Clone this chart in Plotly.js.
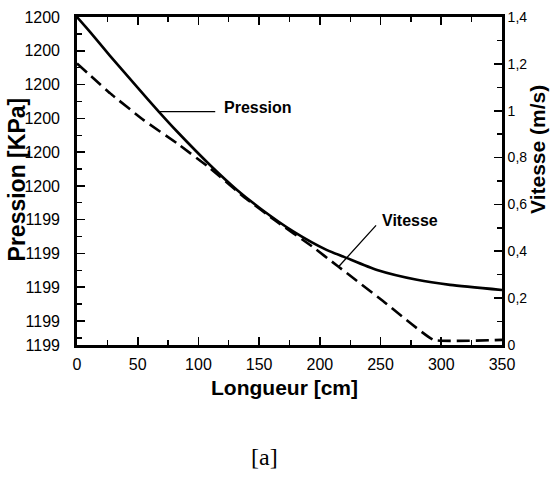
<!DOCTYPE html>
<html>
<head>
<meta charset="utf-8">
<script src="https://cdn.plot.ly/plotly-3.0.1.min.js"></script>
<style>html,body{margin:0;padding:0;background:#fff;}#chart{width:551px;height:477px;}</style>
</head>
<body>
<div id="chart"></div>
<script>
// Longueur [cm] positions for the pressure curve
const xPression = [0, 10.7, 27.2, 49.4, 67.3, 82.4, 109.5, 131.8, 150.7, 178.7, 205.9, 219.9, 247.1, 280, 307.2, 350];
// Pression [KPa]
const pression = [1200.000, 1199.956, 1199.885, 1199.793, 1199.720, 1199.661, 1199.562, 1199.488, 1199.434, 1199.364, 1199.310, 1199.290, 1199.251, 1199.222, 1199.207, 1199.192];
// Longueur [cm] positions for the velocity curve
const xVitesse = [0, 27.4, 54.9, 82.3, 109.7, 137.2, 164.6, 192.0, 215.4, 252.0, 293.5, 350];
// Vitesse (m/s)
const vitesse = [1.202, 1.074, 0.960, 0.861, 0.754, 0.633, 0.526, 0.427, 0.334, 0.188, 0.022, 0.022];

// Axis ticks
const xTicks = [0, 50, 100, 150, 200, 250, 300, 350];
const pTickVals = [1200.0, 1199.9, 1199.8, 1199.7, 1199.6, 1199.5, 1199.4, 1199.3, 1199.2, 1199.1, 1199.029];
const pTickText = ["1200", "1200", "1200", "1200", "1200", "1200", "1199", "1199", "1199", "1199", "1199"];
const vTickVals = [0, 0.2, 0.4, 0.6, 0.8, 1.0, 1.2, 1.4];
const vTickText = ["0", "0,2", "0,4", "0,6", "0,8", "1", "1,2", "1,4"];

const FONT = 'Arial, "Liberation Sans", sans-serif';
const SERIF = '"Times New Roman", "Liberation Serif", serif';

const traces = [
  {x: xPression, y: pression, yaxis: 'y', type: 'scatter', mode: 'lines',
   line: {color: '#000', width: 2.6, shape: 'spline', smoothing: 0.6}, name: 'Pression'},
  {x: xVitesse, y: vitesse, yaxis: 'y2', type: 'scatter', mode: 'lines',
   line: {color: '#000', width: 2.6, dash: '13px,6px', shape: 'spline', smoothing: 0.3}, name: 'Vitesse'}
];

const axisCommon = {
  showgrid: false, zeroline: false, showline: true, linecolor: '#000', linewidth: 2.8,
  ticks: 'inside', ticklen: 8, tickwidth: 1.6, tickcolor: '#000'
};

const layout = {
  width: 551, height: 477,
  margin: {l: 77, r: 49, t: 17, b: 132},
  paper_bgcolor: '#fff', plot_bgcolor: '#fff',
  showlegend: false,
  font: {family: FONT, color: '#000'},
  xaxis: Object.assign({}, axisCommon, {
    range: [0, 350], tickmode: 'array', tickvals: xTicks, ticktext: xTicks.map(String),
    mirror: 'ticks', ticklabelstandoff: 3, tickfont: {size: 16, family: FONT, color: '#000'},
    minor: {tick0: 0, dtick: 25, ticks: 'inside', ticklen: 5, tickwidth: 1.4, tickcolor: '#000'}
  }),
  yaxis: Object.assign({}, axisCommon, {
    range: [1199.029, 1200.0], tickmode: 'array', tickvals: pTickVals, ticktext: pTickText,
    ticklabelstandoff: 11, tickfont: {size: 16, family: FONT, color: '#000'},
    minor: {tick0: 1200, dtick: 0.05, ticks: 'inside', ticklen: 5, tickwidth: 1.4, tickcolor: '#000'}
  }),
  yaxis2: Object.assign({}, axisCommon, {
    overlaying: 'y', side: 'right', range: [0, 1.4],
    tickmode: 'array', tickvals: vTickVals, ticktext: vTickText,
    ticklabelstandoff: 0, tickfont: {size: 14, family: FONT, color: '#000'},
    minor: {tick0: 0, dtick: 0.1, ticks: 'inside', ticklen: 5, tickwidth: 1.4, tickcolor: '#000'}
  }),
  annotations: [
    {xref: 'paper', yref: 'paper', x: -0.141, y: 0.505, xanchor: 'center', yanchor: 'middle',
     text: 'Pression [KPa]', showarrow: false,
     textangle: -90, font: {family: FONT, size: 23, color: '#000', weight: 'bold'}},
    {xref: 'paper', yref: 'paper', x: 1.085, y: 0.595, xanchor: 'center', yanchor: 'middle',
     text: 'Vitesse (m/s)', showarrow: false,
     textangle: -90, font: {family: FONT, size: 21, color: '#000', weight: 'bold'}},
    {xref: 'paper', yref: 'paper', x: 0.489, y: -0.131, xanchor: 'center', yanchor: 'middle',
     text: 'Longueur [cm]', showarrow: false,
     font: {family: FONT, size: 21, color: '#000', weight: 'bold'}},
    {xref: 'paper', yref: 'paper', x: 0.44, y: -0.34, xanchor: 'center', yanchor: 'middle',
     text: '[a]', showarrow: false,
     font: {family: SERIF, size: 24, color: '#000'}},
    // Pression pointer
    {xref: 'x', yref: 'y', x: 67.3, y: 1199.720, text: ' ', font: {size: 1}, showarrow: true,
     arrowhead: 0, arrowwidth: 1.3, arrowcolor: '#000', ax: 58, ay: 0, standoff: 0},
    {xref: 'x', yref: 'y', x: 67.3, y: 1199.720, text: 'Pression', showarrow: false,
     xanchor: 'left', yanchor: 'middle', xshift: 63, yshift: 4,
     font: {family: FONT, size: 16, color: '#000', weight: 'bold'}},
    // Vitesse pointer
    {xref: 'x', yref: 'y2', x: 215.4, y: 0.334, text: ' ', font: {size: 1}, showarrow: true,
     arrowhead: 0, arrowwidth: 1.3, arrowcolor: '#000', ax: 39, ay: -43, standoff: 0},
    {xref: 'x', yref: 'y2', x: 215.4, y: 0.334, text: 'Vitesse', showarrow: false,
     xanchor: 'left', yanchor: 'middle', xshift: 41, yshift: 46,
     font: {family: FONT, size: 16, color: '#000', weight: 'bold'}}
  ]
};

Plotly.newPlot('chart', traces, layout, {displayModeBar: false, staticPlot: true});
</script>
</body>
</html>
